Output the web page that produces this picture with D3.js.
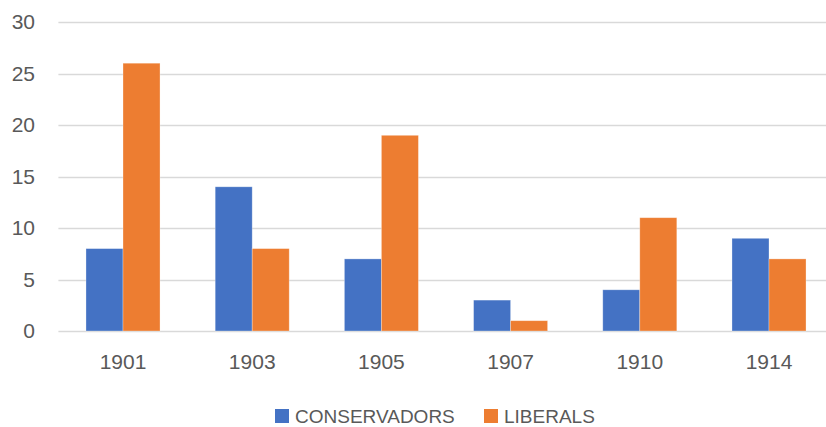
<!DOCTYPE html>
<html>
<head>
<meta charset="utf-8">
<script src="https://cdn.jsdelivr.net/npm/d3@7"></script>
<style>
  body { margin: 0; background: #ffffff; }
  svg { display: block; }
</style>
</head>
<body>
<div id="chart"></div>
<script>
const years = ['1901', '1903', '1905', '1907', '1910', '1914'];
const series_names = ['CONSERVADORS', 'LIBERALS'];
const conservadors = [8, 14, 7, 3, 4, 9];
const liberals = [26, 8, 19, 1, 11, 7];
const y_ticks = [0, 5, 10, 15, 20, 25, 30];
const colors = ['#4472C4', '#ED7D31'];

(function() {
    const width = 826, height = 427;
    const plot = {left: 58.4, right: 833.6, top: 22, bottom: 331};
    const font = '"Liberation Sans", Arial, sans-serif';
    const text_color = '#595959';

    let svg = d3.select('#chart').append('svg')
        .attr('width', width)
        .attr('height', height)
        .attr('font-family', font);

    let x = d3.scaleBand().domain(years).range([plot.left, plot.right]);
    let y = d3.scaleLinear().domain([0, 30]).range([plot.bottom, plot.top]);
    let bar_w = x.bandwidth() * 0.2865;
    let x_inner = d3.scaleBand().domain(series_names)
        .range([x.bandwidth() / 2 - bar_w, x.bandwidth() / 2 + bar_w]);

    // gridlines
    svg.append('g').selectAll('line')
        .data(y_ticks)
        .enter().append('line')
        .attr('x1', plot.left)
        .attr('x2', plot.right)
        .attr('y1', (d) => Math.round(y(d)) + 0.5)
        .attr('y2', (d) => Math.round(y(d)) + 0.5)
        .attr('stroke', '#d9d9d9')
        .attr('stroke-width', 1.3);

    // y axis labels
    let y_axis = svg.append('g')
        .attr('transform', 'translate(35,0)')
        .call(d3.axisLeft(y).tickValues(y_ticks).tickSize(0).tickPadding(0));
    y_axis.select('.domain').remove();
    y_axis.selectAll('text')
        .attr('fill', text_color)
        .attr('font-size', 21)
        .attr('font-family', font);

    // x axis labels
    let x_axis = svg.append('g')
        .attr('transform', 'translate(0,' + plot.bottom + ')')
        .call(d3.axisBottom(x).tickSize(0).tickPadding(23));
    x_axis.select('.domain').remove();
    x_axis.selectAll('text')
        .attr('fill', text_color)
        .attr('font-size', 21)
        .attr('font-family', font);

    const table = years.map((yr, i) => ({
        year: yr,
        values: [
            {name: series_names[0], value: conservadors[i], k: 0},
            {name: series_names[1], value: liberals[i], k: 1}
        ]
    }));

    let groups = svg.append('g').selectAll('g')
        .data(table)
        .enter().append('g')
        .attr('transform', (d) => 'translate(' + x(d.year) + ',0)');

    groups.selectAll('rect')
        .data((d) => d.values)
        .enter().append('rect')
        .attr('x', (d) => x_inner(d.name))
        .attr('y', (d) => y(d.value))
        .attr('width', x_inner.bandwidth())
        .attr('height', (d) => y(0) - y(d.value))
        .attr('fill', (d) => colors[d.k])
        .attr('stroke', '#ffffff')
        .attr('stroke-opacity', 0.4)
        .attr('stroke-width', 0.75);

    // legend
    const legend_x = [275, 484];
    let legend = svg.append('g').selectAll('g')
        .data(series_names)
        .enter().append('g')
        .attr('transform', (d, i) => 'translate(' + legend_x[i] + ',409)');

    legend.append('rect')
        .attr('width', 14)
        .attr('height', 14)
        .attr('fill', (d, i) => colors[i]);

    legend.append('text')
        .attr('x', 20)
        .attr('y', 7)
        .attr('dy', '0.36em')
        .attr('fill', text_color)
        .attr('font-size', 19)
        .text((d) => d);
}());
</script>
</body>
</html>
